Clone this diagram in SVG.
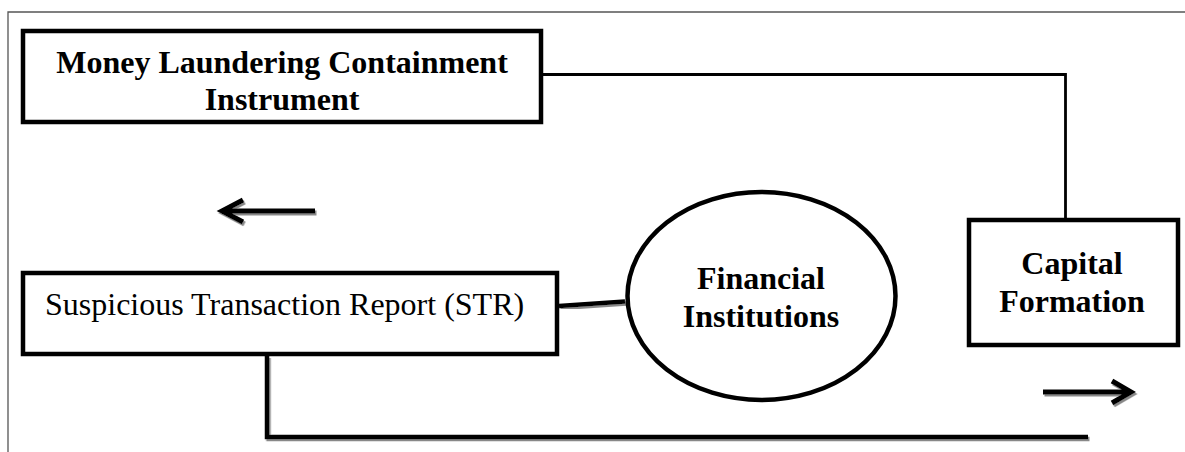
<svg xmlns="http://www.w3.org/2000/svg" width="1185" height="452" viewBox="0 0 1185 452">
<style>
.box{fill:#fff;stroke:#000;stroke-width:4.5}
.b{font-family:"Liberation Serif","Times New Roman",serif;font-size:32px;font-weight:bold;fill:#000;text-anchor:middle}
.r{font-family:"Liberation Serif","Times New Roman",serif;font-size:32px;fill:#000}
.frame{stroke:#555;stroke-width:1.3;fill:none}
.thin{stroke:#000;stroke-width:2.8;fill:none}
.thick{stroke:#000;stroke-width:4.5;fill:none;filter:url(#sh)}
.arrow{stroke:#000;stroke-width:5;fill:none;stroke-linecap:butt;stroke-linejoin:miter;filter:url(#sh)}
</style>
<defs>
<filter id="sh" x="-10%" y="-50%" width="120%" height="200%">
<feDropShadow dx="1.5" dy="2" stdDeviation="0.6" flood-color="#888" flood-opacity="1"/>
</filter>
</defs>
<rect width="1185" height="452" fill="#fff"/>
<g id="frame">
<path class="frame" d="M8,452 V12 H1185"/>
</g>
<g id="connectors">
<path class="thin" d="M543,74.5 H1065.5 V218"/>
<path class="thick" d="M559,306 L625,301.5"/>
<path class="thick" d="M898,295 H967"/>
<path class="thick" d="M267,356 V437 H1088"/>
</g>
<g id="arrow-left">
<path class="arrow" d="M315,211 H222 M243,200 L222,211 L243,222"/>
</g>
<g id="arrow-right">
<path class="arrow" d="M1043,392 H1131 M1112,381 L1131,392 L1112,403"/>
</g>
<g id="node-mlci">
<rect class="box" x="23" y="31" width="518" height="91"/>
<text class="b" x="282" y="73">Money Laundering Containment</text>
<text class="b" x="282" y="110">Instrument</text>
</g>
<g id="node-str">
<rect class="box" x="23" y="273" width="534" height="81"/>
<text class="r" x="45" y="315">Suspicious Transaction Report (STR)</text>
</g>
<g id="node-fi">
<ellipse class="box" cx="761.5" cy="296" rx="134" ry="104"/>
<text class="b" x="761" y="289">Financial</text>
<text class="b" x="761" y="327">Institutions</text>
</g>
<g id="node-cf">
<rect class="box" x="969" y="220" width="209" height="125"/>
<text class="b" x="1072" y="274">Capital</text>
<text class="b" x="1072" y="312">Formation</text>
</g>
</svg>
